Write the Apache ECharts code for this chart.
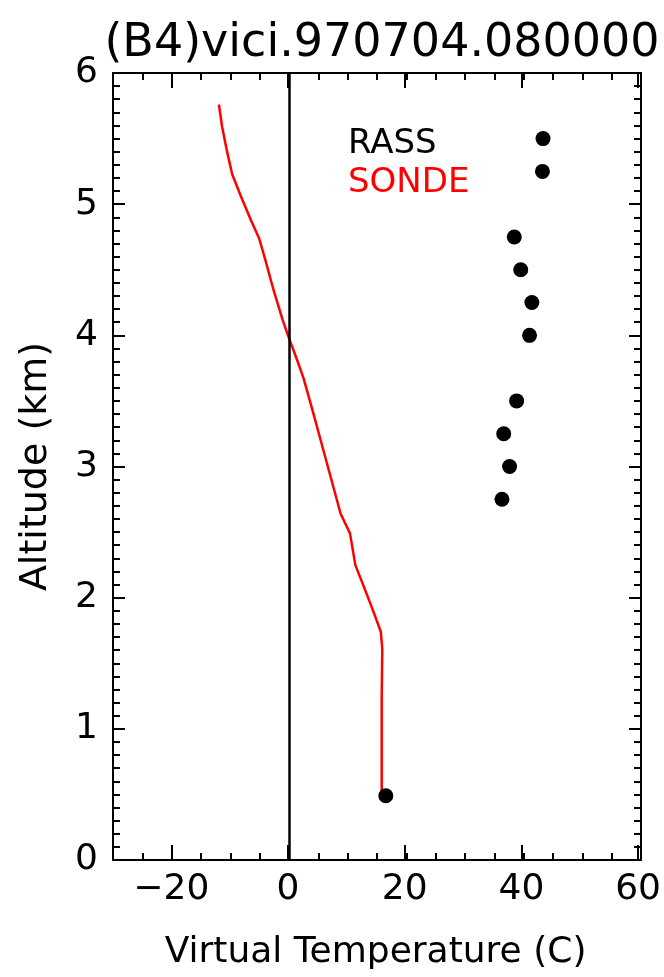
<!DOCTYPE html>
<html>
<head>
<meta charset="utf-8">
<script src="https://cdn.jsdelivr.net/npm/echarts@6/dist/echarts.min.js"></script>
<style>html,body{margin:0;padding:0;background:#fff;}#c{width:664px;height:977px;}</style>
</head>
<body>
<div id="c"></div>
<script>
var titleText = '(B4)vici.970704.080000';
var xName = 'Virtual Temperature (C)';
var yName = 'Altitude (km)';
var xMajorTicks = [-20, 0, 20, 40, 60];

var sondeT   = [15.8, 15.8, 16.1, 15.9, 15.65, 14.5, 13.4, 11.3, 10.4, 8.8, 7.1, 5.4, 4.0, 2.5, 1.4, -0.1, -1.1, -2.6, -4.0, -5.1, -6.5, -8.2, -9.7, -10.6, -11.4, -11.95];
var sondeAlt = [0.5, 1.24, 1.25, 1.61, 1.74, 1.88, 2.01, 2.25, 2.49, 2.64, 2.92, 3.20, 3.43, 3.67, 3.81, 3.99, 4.12, 4.34, 4.57, 4.74, 4.88, 5.06, 5.23, 5.41, 5.59, 5.76];

var rassT   = [16.5, 36.3, 37.6, 36.6, 38.8, 41.0, 41.4, 39.5, 38.4, 43.2, 43.3];
var rassAlt = [0.49, 2.75, 3.0, 3.25, 3.5, 4.0, 4.25, 4.5, 4.75, 5.25, 5.5];

var FONT = 'DejaVu Sans';
var gridRect = {left: 113, right: 23, top: 73, bottom: 117};

function zip(a, b) { return a.map(function (v, i) { return [v, b[i]]; }); }
function fmtX(v) { return v < 0 ? '\u2212' + Math.abs(v) : String(v); }

var chart = echarts.init(document.getElementById('c'), null, {renderer: 'canvas'});
var axisLine = {show: true, onZero: false, lineStyle: {color: '#000', width: 2}};
chart.setOption({
  animation: false,
  backgroundColor: '#fff',
  title: {
    text: titleText, left: 377, top: 16, textAlign: 'center',
    textStyle: {fontFamily: FONT, fontSize: 46, fontWeight: 'normal', color: '#000'}
  },
  legend: {
    orient: 'vertical', left: 338, top: 122, itemGap: 5,
    itemWidth: 0, itemHeight: 0, icon: 'rect',
    textStyle: {fontFamily: FONT, fontSize: 34},
    data: [
      {name: 'RASS', textStyle: {color: '#000'}},
      {name: 'SONDE', textStyle: {color: '#ff0000'}}
    ]
  },
  grid: [
    Object.assign({}, gridRect),
    Object.assign({}, gridRect)
  ],
  xAxis: [
    {gridIndex: 0, type: 'value', position: 'bottom', min: -30, max: 60, interval: 5,
     axisLine: axisLine, axisTick: {inside: true, length: 7, lineStyle: {width: 2}},
     axisLabel: {show: false}, splitLine: {show: false}},
    {gridIndex: 0, type: 'value', position: 'top', min: -30, max: 60, interval: 5,
     axisLine: axisLine, axisTick: {inside: true, length: 7, lineStyle: {width: 2}},
     axisLabel: {show: false}, splitLine: {show: false}},
    {gridIndex: 1, type: 'value', position: 'bottom', min: -30, max: 60, interval: 10,
     axisLine: {show: false},
     axisTick: {inside: true, length: 15, customValues: xMajorTicks, lineStyle: {width: 2, color: '#000'}},
     axisLabel: {customValues: xMajorTicks, formatter: fmtX, margin: 12, fontFamily: FONT, fontSize: 36, color: '#000'},
     splitLine: {show: false},
     name: xName, nameLocation: 'middle', nameGap: 75,
     nameTextStyle: {fontFamily: FONT, fontSize: 36, color: '#000'}},
    {gridIndex: 1, type: 'value', position: 'top', min: -30, max: 60, interval: 10,
     axisLine: {show: false},
     axisTick: {inside: true, length: 15, customValues: xMajorTicks, lineStyle: {width: 2, color: '#000'}},
     axisLabel: {show: false}, splitLine: {show: false}}
  ],
  yAxis: [
    {gridIndex: 0, type: 'value', position: 'left', min: 0, max: 6, interval: 1,
     axisLine: axisLine, axisTick: {inside: true, length: 12, lineStyle: {width: 2}},
     minorTick: {show: true, splitNumber: 10, length: 7, lineStyle: {width: 2, color: '#000'}},
     axisLabel: {margin: 15, fontFamily: FONT, fontSize: 36, color: '#000'},
     splitLine: {show: false}, minorSplitLine: {show: false},
     name: yName, nameLocation: 'middle', nameGap: 58, nameRotate: 90,
     nameTextStyle: {fontFamily: FONT, fontSize: 38, color: '#000'}},
    {gridIndex: 0, type: 'value', position: 'right', min: 0, max: 6, interval: 1,
     axisLine: axisLine, axisTick: {inside: true, length: 12, lineStyle: {width: 2}},
     minorTick: {show: true, splitNumber: 10, length: 7, lineStyle: {width: 2, color: '#000'}},
     axisLabel: {show: false}, splitLine: {show: false}, minorSplitLine: {show: false}},
    {gridIndex: 1, type: 'value', min: 0, max: 6, show: false}
  ],
  series: [
    {
      name: 'SONDE', type: 'line', xAxisIndex: 0, yAxisIndex: 0,
      data: zip(sondeT, sondeAlt), showSymbol: false, symbol: 'none',
      lineStyle: {color: '#ff0000', width: 2.5, opacity: 1}, itemStyle: {color: '#ff0000'},
      z: 3,
      markLine: {
        silent: true, symbol: 'none', label: {show: false},
        lineStyle: {color: '#000', width: 2.5, type: 'solid', opacity: 1},
        emphasis: {disabled: true},
        data: [{xAxis: 0}]
      }
    },
    {
      name: 'RASS', type: 'scatter', xAxisIndex: 0, yAxisIndex: 0,
      data: zip(rassT, rassAlt), symbol: 'circle', symbolSize: 15,
      itemStyle: {color: '#000', opacity: 1}, z: 4
    }
  ]
});
</script>
</body>
</html>
